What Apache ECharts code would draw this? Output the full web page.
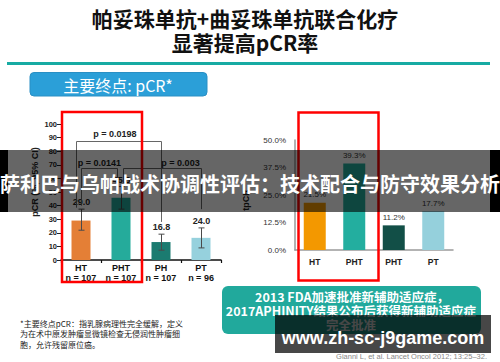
<!DOCTYPE html>
<html><head><meta charset="utf-8">
<script src="https://cdn.jsdelivr.net/npm/echarts@6/dist/echarts.min.js"></script>
<style>html,body{margin:0;padding:0;background:#fff}#c{width:500px;height:362px}</style>
</head><body><div id="c"></div>
<script>
// ---- data ----
const leftCategories = ['HT', 'PHT', 'PH', 'PT'];
const leftN = ['n = 107', 'n = 107', 'n = 107', 'n = 96'];
const leftBarValues = [29.0, 45.8, 13.2, 16.3];
const leftLabels = ['29.0', '45.8', '16.8', '24.0'];
const leftCiLow = [21.9, 37.4, 7.2, 8.9];
const leftCiHigh = [37.4, 54.0, 19.0, 23.6];
const leftColors = ['#e47f36', '#25ab9b', '#1b7b70', '#96d1dd'];
const pValues = ['p = 0.0198', 'p = 0.0141', 'p = 0.003'];
const bracketFrom = [0, 0, 1];
const bracketTo = [2, 1, 3];
const bracketTop = [87.7, 67.4, 67.4];
const bracketLeftEnd = [38.5, 40, 57];
const bracketRightEnd = [28, 57, 37.4];
const rightCategories = ['HT', 'PHT', 'PHT', 'PT'];
const rightValues = [21.5, 39.3, 11.2, 17.7];
const rightColors = ['#f39800', '#23ae9f', '#124f47', '#95d0dc'];

// ---- layout helpers (positions, not data) ----
const BRACKET_DX = [[-5, 0], [0, -4], [2, 0]];
const P_TEXT_DX = [-4, 0, 18];
const P_TEXT_DY = [8, 6, 6];
const LATIN = '"Liberation Sans","Noto Sans CJK SC",sans-serif';
const CJK = '"Noto Sans CJK SC","Liberation Sans",sans-serif';

const chart = echarts.init(document.getElementById('c'), null, {renderer: 'svg'});

function renderErr(params, api) {
  const i = params.dataIndex;
  const x = api.value(0);
  const lo = api.coord([x, api.value(1)]);
  const hi = api.coord([x, api.value(2)]);
  const cx = Math.round(lo[0]) + 0.5;
  const s = {stroke: '#4a4a4a', lineWidth: 1};
  return {type: 'group', children: [
    {type: 'line', shape: {x1: cx, y1: lo[1], x2: cx, y2: hi[1]}, style: s},
    {type: 'line', shape: {x1: cx - 3, y1: lo[1], x2: cx + 3, y2: lo[1]}, style: s},
    {type: 'line', shape: {x1: cx - 3, y1: hi[1], x2: cx + 3, y2: hi[1]}, style: s},
    {type: 'text', style: {text: leftLabels[i], x: cx, y: hi[1] - 7, align: 'center', verticalAlign: 'middle',
      font: 'bold 9px ' + LATIN, fill: '#222'}}
  ]};
}

function renderBracket(params, api) {
  const i = params.dataIndex;
  const from = api.value(0), to = api.value(1);
  const pL = api.coord([from, api.value(2)]);
  const pR = api.coord([to, api.value(2)]);
  const lx = Math.round(pL[0] + BRACKET_DX[i][0]) + 0.5;
  const rx = Math.round(pR[0] + BRACKET_DX[i][1]) + 0.5;
  const ty = Math.round(pL[1]) + 0.5;
  const ly = api.coord([from, api.value(3)])[1];
  const ry = api.coord([to, api.value(4)])[1];
  return {type: 'group', children: [
    {type: 'polyline', shape: {points: [[lx, ly], [lx, ty], [rx, ty], [rx, ry]]},
      style: {stroke: '#666', lineWidth: 1, fill: null}},
    {type: 'text', style: {text: pValues[i], x: (lx + rx) / 2 + P_TEXT_DX[i], y: ty - P_TEXT_DY[i],
      align: 'center', verticalAlign: 'middle', font: 'bold 9px ' + LATIN, fill: '#222'}}
  ]};
}

const option = {
  animation: false,
  backgroundColor: '#fff',
  grid: [
    {left: 61, top: 124, width: 160, height: 136},
    {left: 295, top: 140, width: 158, height: 110}
  ],
  xAxis: [
    {type: 'category', gridIndex: 0, data: leftCategories,
      axisLine: {lineStyle: {color: '#111', width: 1.5}},
      axisTick: {show: true, length: 3, lineStyle: {color: '#111', width: 1.2}},
      axisLabel: {interval: 0, margin: 3, lineHeight: 10,
        formatter: (v, i) => '{a|' + v + '}\n{b|' + leftN[i] + '}',
        rich: {a: {fontFamily: LATIN, fontSize: 9, fontWeight: 'bold', color: '#111', lineHeight: 10},
               b: {fontFamily: LATIN, fontSize: 9, fontWeight: 'bold', color: '#111', lineHeight: 10}}}},
    {type: 'category', gridIndex: 1, data: rightCategories.map((c, i) => String(i)),
      axisLine: {lineStyle: {color: '#9a9a9a', width: 1.5}},
      axisTick: {show: false},
      axisLabel: {interval: 0, margin: 8, formatter: (v, i) => rightCategories[i],
        fontFamily: LATIN, fontSize: 8.5, fontWeight: 'bold', color: '#222'}}
  ],
  yAxis: [
    {type: 'value', gridIndex: 0, min: 0, max: 100, interval: 10,
      axisLine: {show: true, lineStyle: {color: '#222', width: 1}},
      axisTick: {show: true, length: 4, lineStyle: {color: '#222'}},
      splitLine: {show: false},
      axisLabel: {fontFamily: LATIN, fontSize: 7.5, fontWeight: 'bold', color: '#222', margin: 4}},
    {type: 'value', gridIndex: 1, min: 0, max: 50, interval: 12.5,
      axisLine: {show: true, lineStyle: {color: '#9a9a9a', width: 1.5}},
      axisTick: {show: false},
      splitLine: {show: false},
      axisLabel: {fontFamily: LATIN, fontSize: 8, color: '#333', margin: 9,
        formatter: v => v.toFixed(1) + '%'}}
  ],
  series: [
    {type: 'bar', xAxisIndex: 0, yAxisIndex: 0, barWidth: 19, z: 2,
      data: leftBarValues.map((v, i) => ({value: v, itemStyle: {color: leftColors[i]}}))},
    {type: 'custom', xAxisIndex: 0, yAxisIndex: 0, z: 3, renderItem: renderErr,
      encode: {x: 0, y: [1, 2]},
      data: leftCategories.map((c, i) => [i, leftCiLow[i], leftCiHigh[i]])},
    {type: 'custom', xAxisIndex: 0, yAxisIndex: 0, z: 3, renderItem: renderBracket,
      encode: {x: [0, 1], y: [2, 3, 4]},
      data: pValues.map((p, i) => [bracketFrom[i], bracketTo[i], bracketTop[i], bracketLeftEnd[i], bracketRightEnd[i]])},
    {type: 'bar', xAxisIndex: 1, yAxisIndex: 1, barWidth: 22, z: 2,
      label: {show: true, position: 'top', distance: 4, fontFamily: LATIN, fontSize: 8, color: '#333',
        formatter: p => p.value.toFixed(1) + '%'},
      data: rightValues.map((v, i) => ({value: v, itemStyle: {color: rightColors[i]}}))}
  ],
  graphic: [
    // title
    {type: 'text', z: 20, style: {text: '帕妥珠单抗+曲妥珠单抗联合化疗', x: 245, y: 18, textAlign: 'center', align: 'center',
      textVerticalAlign: 'middle', verticalAlign: 'middle', font: 'bold 21px ' + CJK, fill: '#111'}},
    {type: 'text', z: 20, style: {text: '显著提高pCR率', x: 245, y: 42, textAlign: 'center', align: 'center',
      textVerticalAlign: 'middle', verticalAlign: 'middle', font: 'bold 21px ' + CJK, fill: '#111'}},
    {type: 'rect', z: 20, shape: {x: 7, y: 62, width: 483, height: 3}, style: {fill: '#17aba3'}},
    // blue box
    {type: 'rect', z: 20, shape: {x: 30, y: 72.5, width: 177, height: 23.5, r: 4},
      style: {fill: '#2b9fd8', stroke: '#2a8fc4', lineWidth: 1}},
    {type: 'text', z: 21, style: {text: '主要终点: pCR*', x: 118, y: 84.5, textAlign: 'center', align: 'center',
      textVerticalAlign: 'middle', verticalAlign: 'middle', font: '16px ' + CJK, fill: '#fff'}},
    // axis titles
    {type: 'text', z: 20, rotation: Math.PI / 2, x: 35, y: 182,
      style: {text: 'pCR (%, 95% CI)', x: 0, y: 0, textAlign: 'center', align: 'center',
        textVerticalAlign: 'middle', verticalAlign: 'middle', font: 'bold 9px ' + LATIN, fill: '#222'}},
    {type: 'text', z: 20, rotation: Math.PI / 2, x: 246, y: 200,
      style: {text: 'tpCR', x: 0, y: 0, textAlign: 'center', align: 'center',
        textVerticalAlign: 'middle', verticalAlign: 'middle', font: 'bold 9px ' + LATIN, fill: '#222'}},
    // red boxes
    {type: 'rect', z: 50, shape: {x: 62, y: 112, width: 80, height: 170},
      style: {fill: null, stroke: '#ff0000', lineWidth: 2.5}},
    {type: 'rect', z: 50, shape: {x: 298.5, y: 112.5, width: 80, height: 168},
      style: {fill: null, stroke: '#ff0000', lineWidth: 2.5}},
    // banner
    {type: 'rect', z: 100, shape: {x: 0, y: 150, width: 500, height: 62}, style: {fill: 'rgba(0,0,0,0.6)'}},
    {type: 'rect', z: 101, shape: {x: 0, y: 150, width: 8, height: 62}, style: {fill: '#000'}},
    {type: 'rect', z: 101, shape: {x: 490, y: 150, width: 10, height: 62}, style: {fill: '#000'}},
    {type: 'text', z: 102, style: {text: '萨利巴与乌帕战术协调性评估：技术配合与防守效果分析', x: 250, y: 183,
      textAlign: 'center', align: 'center', textVerticalAlign: 'middle', verticalAlign: 'middle',
      font: 'bold 20px ' + CJK, fill: '#fff'}},
    // footnote
    {type: 'text', z: 20, style: {text: '*主要终点pCR：指乳腺病理性完全缓解，定义\n为在术中原发肿瘤显微镜检查无侵润性肿瘤细\n胞，允许残留原位癌。',
      x: 20, y: 318, textAlign: 'left', align: 'left', textVerticalAlign: 'top', verticalAlign: 'top',
      font: '8px ' + CJK, lineHeight: 10.5, fill: '#222'}},
    // teal box
    {type: 'rect', z: 20, shape: {x: 222, y: 286, width: 259, height: 48, r: 6}, style: {fill: '#21a99c'}},
    {type: 'text', z: 21, style: {text: '2013 FDA加速批准新辅助适应症，', x: 352, y: 296,
      textAlign: 'center', align: 'center', textVerticalAlign: 'middle', verticalAlign: 'middle',
      font: 'bold 12.5px ' + CJK, fill: '#fff'}},
    {type: 'text', z: 21, style: {text: '2017APHINITY结果公布后获得新辅助适应症', x: 351, y: 310,
      textAlign: 'center', align: 'center', textVerticalAlign: 'middle', verticalAlign: 'middle',
      font: 'bold 12.5px ' + CJK, fill: '#fff'}},
    {type: 'text', z: 21, style: {text: '完全批准', x: 351, y: 324,
      textAlign: 'center', align: 'center', textVerticalAlign: 'middle', verticalAlign: 'middle',
      font: 'bold 12.5px ' + CJK, fill: '#fff'}},
    // watermark
    {type: 'rect', z: 110, shape: {x: 275, y: 315, width: 216, height: 38}, style: {fill: 'rgba(0,0,0,0.72)'}},
    {type: 'text', z: 111, style: {text: 'www.zh-sc-j9game.com', x: 383, y: 337.5,
      textAlign: 'center', align: 'center', textVerticalAlign: 'middle', verticalAlign: 'middle',
      font: 'bold 18px ' + LATIN, fill: '#fff'}},
    // citation
    {type: 'text', z: 20, style: {text: 'Gianni L, et al. Lancet Oncol 2012; 13:25–32.', x: 487, y: 356,
      textAlign: 'right', align: 'right', textVerticalAlign: 'middle', verticalAlign: 'middle',
      font: '7.5px ' + LATIN, fill: '#888'}}
  ]
};
chart.setOption(option);
</script>
</body></html>
